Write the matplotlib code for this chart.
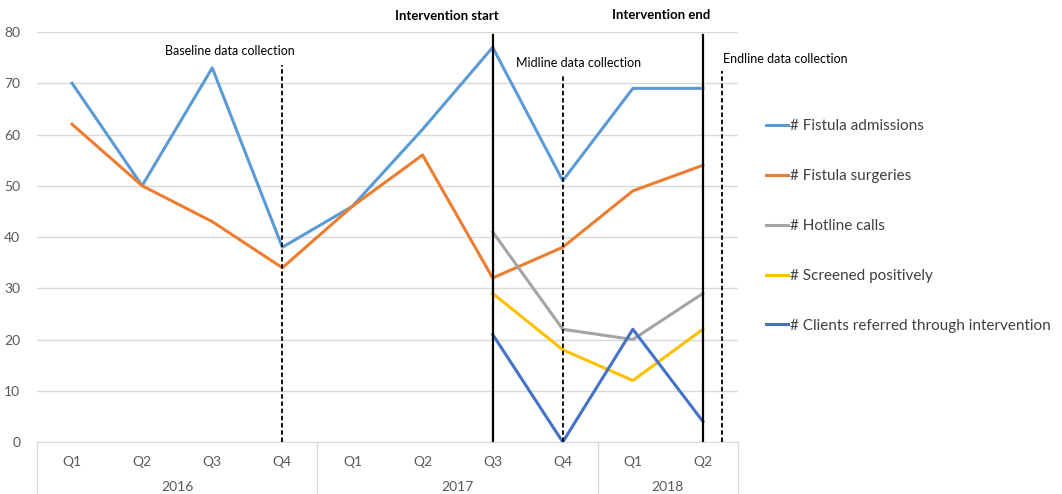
import matplotlib.pyplot as plt

plt.rcParams['font.family'] = ['Lato', 'DejaVu Sans']

quarters = ['Q1', 'Q2', 'Q3', 'Q4', 'Q1', 'Q2', 'Q3', 'Q4', 'Q1', 'Q2']
years = ['2016', '2017', '2018']
year_spans = [(0, 4), (4, 8), (8, 10)]

admissions = [70, 50, 73, 38, 46, 61, 77, 51, 69, 69]
surgeries = [62, 50, 43, 34, 46, 56, 32, 38, 49, 54]
# these three only start at Q3 2017
hotline = [41, 22, 20, 29]
screened = [29, 18, 12, 22]
referred = [21, 0, 22, 4]

# vertical markers: (x position, top value, style)
markers = [
    (3, 73.5, 'dashed'),
    (6, 79.5, 'solid'),
    (7, 71.5, 'dashed'),
    (9, 79.5, 'solid'),
    (9.27, 72.3, 'dashed'),
]

fig = plt.figure(figsize=(10.62, 4.94), dpi=100)
ax = fig.add_axes([37 / 1062, 52 / 494, 701 / 1062, 410 / 494])

x = list(range(len(quarters)))
x_late = x[6:]
ax.plot(x, admissions, color='#5B9BD5', lw=2.2, label='# Fistula admissions', zorder=3)
ax.plot(x, surgeries, color='#ED7D31', lw=2.2, label='# Fistula surgeries', zorder=3)
ax.plot(x_late, hotline, color='#A5A5A5', lw=2.2, label='# Hotline calls', zorder=3)
ax.plot(x_late, screened, color='#FFC000', lw=2.2, label='# Screened positively', zorder=3)
ax.plot(x_late, referred, color='#4472C4', lw=2.2, label='# Clients referred through intervention', zorder=3)

for xpos, top, style in markers:
    if style == 'solid':
        ax.plot([xpos, xpos], [0, top], color='black', lw=1.6, zorder=4)
    else:
        ax.plot([xpos, xpos], [0, top], color='black', lw=1.3, ls=(0, (2.5, 1.5)), zorder=4)

# annotation texts
ax.text(3 - 0.75, 75.2, 'Baseline data collection', ha='center', va='bottom', fontsize=9, color='black')
ax.text(6 - 0.66, 82, 'Intervention start', ha='center', va='bottom', fontsize=9.5,
        fontweight='bold', color='black', clip_on=False)
ax.text(7.22, 72.8, 'Midline data collection', ha='center', va='bottom', fontsize=9, color='black')
ax.text(9 - 0.6, 82.2, 'Intervention end', ha='center', va='bottom', fontsize=9.5,
        fontweight='bold', color='black', clip_on=False)
ax.text(10.17, 73.6, 'Endline data collection', ha='center', va='bottom', fontsize=9,
        color='black', clip_on=False)

ax.set_xlim(-0.5, 9.5)
ax.set_ylim(0, 80)
ax.set_yticks(range(0, 81, 10))
ax.yaxis.grid(True, color='#D9D9D9', lw=1)
ax.set_axisbelow(True)
for side in ['left', 'right', 'top']:
    ax.spines[side].set_visible(False)
ax.spines['bottom'].set_color('#D9D9D9')
ax.tick_params(axis='y', length=0, pad=12, labelsize=10, labelcolor='#595959')
ax.set_xticks([])

# two-level category axis like Excel
tr = ax.get_xaxis_transform()
for i, q in enumerate(quarters):
    ax.text(i, -0.049, q, transform=tr, ha='center', va='center', fontsize=10,
            color='#595959', clip_on=False)
for (a, b), yr in zip(year_spans, years):
    ax.text((a + b - 1) / 2, -0.11, yr, transform=tr, ha='center', va='center',
            fontsize=10, color='#595959', clip_on=False)
for edge in [-0.5, 3.5, 7.5, 9.5]:
    ax.plot([edge, edge], [0, -0.13], transform=tr, color='#D9D9D9', lw=1, clip_on=False)

handles, labels = ax.get_legend_handles_labels()
fig.legend(handles, labels, loc='center left', bbox_to_anchor=(752 / 1062, 1 - 226 / 494),
           frameon=False, fontsize=11, labelspacing=2.35, handlelength=1.45,
           handletextpad=0.15, labelcolor='#404040')

fig.savefig('out.png', dpi=100)
